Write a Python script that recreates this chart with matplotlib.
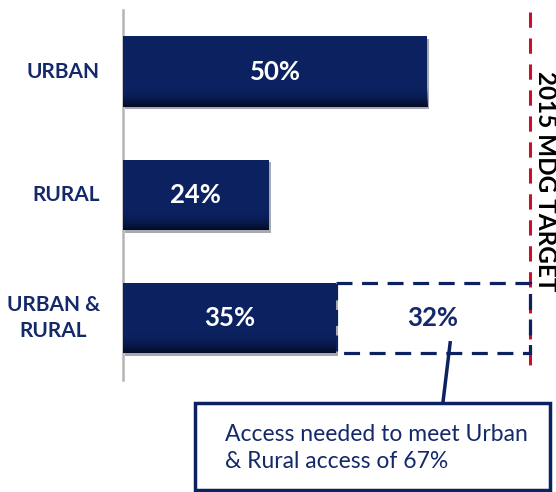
import matplotlib
matplotlib.use('Agg')
import matplotlib.pyplot as plt
import matplotlib.patheffects as pe
from matplotlib.patches import Rectangle
import numpy as np

# data
categories = ['URBAN', 'RURAL', 'URBAN &\nRURAL']
access = [50, 24, 35]
needed = 32          # gap to target for urban & rural
target = 67          # 2015 MDG target
target_label = '2015 MDG TARGET'
note = 'Access needed to meet Urban\n& Rural access of 67%'

# colours
navy = '#0c2160'
navy_txt = '#14296a'
red = '#c8102e'

plt.rcParams['font.family'] = ['Lato', 'DejaVu Sans']

fig = plt.figure(figsize=(5.56, 4.92), dpi=100)
ax = fig.add_axes([0, 0, 1, 1])
ax.set_xlim(-20.2, 71.2)
ax.set_ylim(3.41, -0.58)
ax.axis('off')

y = np.arange(len(categories))
h = 0.57

# bars with a little shadow
bars = ax.barh(y, access, height=h, color=navy, zorder=3)
shade = matplotlib.colors.LinearSegmentedColormap.from_list('g', ['#0c216000', '#030b26ff'])
for b in bars:
    b.set_path_effects([pe.SimplePatchShadow(offset=(1.5, -2), alpha=0.35), pe.Normal()])
    # dark gradient at the bottom of each bar
    x0, w = b.get_x(), b.get_width()
    yb = b.get_y() + b.get_height()
    grad = np.linspace(0, 1, 50).reshape(-1, 1)
    ax.imshow(grad, extent=(x0, x0 + w, yb, yb - 0.16), cmap=shade,
              aspect='auto', zorder=4, interpolation='bilinear')

for i, v in enumerate(access):
    ax.text(v / 2, y[i], f'{v}%', color='white', fontsize=18.5, fontweight='bold',
            ha='center', va='center', zorder=5)
    ax.text(-3.8, y[i], categories[i], color=navy_txt, fontsize=15, fontweight='bold',
            ha='right', va='center', multialignment='center', linespacing=1.4)

# dashed box for the gap
ax.barh(y[2], needed, left=access[2], height=h, facecolor='none', edgecolor=navy,
        linewidth=2.3, linestyle=(0, (5, 3)), zorder=3)
ax.text(access[2] + needed / 2, y[2], f'{needed}%', color=navy_txt, fontsize=18.5,
        fontweight='bold', ha='center', va='center')

# axis line
ax.plot([0, 0], [-0.5, 2.5], color='#b5b5b5', lw=1.8, zorder=2)

# target line
ax.plot([target, target], [-0.48, 2.44], color=red, lw=2.2, linestyle=(0, (5, 3.5)), zorder=2)
ax.text(69.4, 0.89, target_label, rotation=-90, fontsize=17.5, fontweight='bold',
        color='black', ha='center', va='center')

# callout
ax.plot([53.8, 52.6], [2.20, 2.69], color=navy, lw=2.5, zorder=6)
ax.add_patch(Rectangle((11.8, 2.69), 58.4, 0.70, facecolor='white', edgecolor=navy,
                       linewidth=2.5, zorder=6, clip_on=False))
ax.text(16.8, 3.05, note, color=navy_txt, fontsize=16.5, ha='left', va='center',
        linespacing=1.35, zorder=7)

fig.savefig('out.png', dpi=100)
